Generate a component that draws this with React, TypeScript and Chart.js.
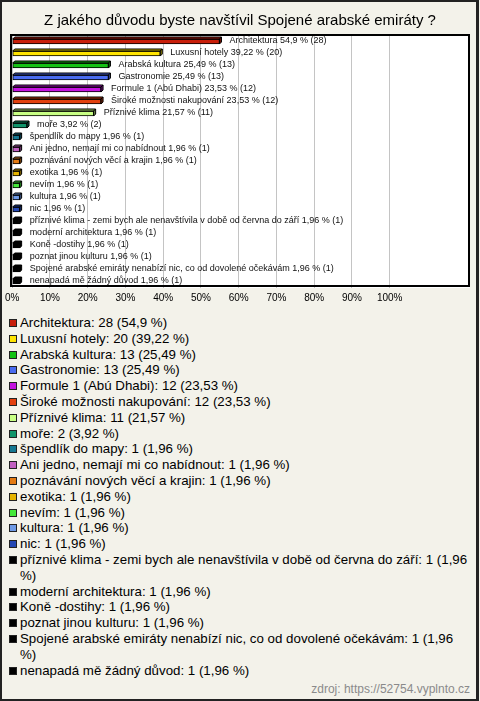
import React, { useEffect, useRef } from 'react';
import { Chart, registerables } from 'chart.js';

Chart.register(...registerables);

const TITLE = 'Z jakého důvodu byste navštívil Spojené arabské emiráty ?';
const SOURCE = 'zdroj: https://52754.vyplnto.cz';

const categories = [
  'Architektura',
  'Luxusní hotely',
  'Arabská kultura',
  'Gastronomie',
  'Formule 1 (Abú Dhabi)',
  'Široké možnosti nakupování',
  'Příznivé klima',
  'moře',
  'špendlík do mapy',
  'Ani jedno, nemají mi co nabídnout',
  'poznávání nových věcí a krajin',
  'exotika',
  'nevím',
  'kultura',
  'nic',
  'příznivé klima - zemi bych ale nenavštívila v době od června do září',
  'moderní architektura',
  'Koně -dostihy',
  'poznat jinou kulturu',
  'Spojené arabské emiráty nenabízí nic, co od dovolené očekávám',
  'nenapadá mě žádný důvod',
];

const counts = [28, 20, 13, 13, 12, 12, 11, 2, 1, 1, 1, 1, 1, 1, 1, 1, 1, 1, 1, 1, 1];

const percents = [
  54.9, 39.22, 25.49, 25.49, 23.53, 23.53, 21.57, 3.92, 1.96, 1.96, 1.96, 1.96, 1.96, 1.96, 1.96,
  1.96, 1.96, 1.96, 1.96, 1.96, 1.96,
];

const percentLabels = [
  '54,9', '39,22', '25,49', '25,49', '23,53', '23,53', '21,57', '3,92', '1,96', '1,96', '1,96',
  '1,96', '1,96', '1,96', '1,96', '1,96', '1,96', '1,96', '1,96', '1,96', '1,96',
];

const colors = [
  '#c81e0a', '#ffe400', '#14c214', '#4a6cf0', '#c414e0', '#e2400e', '#c8ff84', '#10946a',
  '#167892', '#c060c0', '#e47a12', '#e6b400', '#44e83a', '#6e9ae6', '#2448b4', '#000000',
  '#000000', '#000000', '#000000', '#000000', '#000000',
];

const xTickValues = [0, 10, 20, 30, 40, 50, 60, 70, 80, 90, 100];

const FONT = '"Liberation Sans", Arial, sans-serif';

function shade(hex: string, f: number): string {
  const n = parseInt(hex.slice(1), 16);
  let r = (n >> 16) & 255;
  let g = (n >> 8) & 255;
  let b = n & 255;
  r = Math.round(r * f);
  g = Math.round(g * f);
  b = Math.round(b * f);
  return `rgb(${Math.min(255, r)},${Math.min(255, g)},${Math.min(255, b)})`;
}

const framePlugin = {
  id: 'plotFrame',
  beforeDraw(chart: any) {
    const { ctx, chartArea: a } = chart;
    ctx.save();
    ctx.fillStyle = '#ffffff';
    ctx.fillRect(Math.floor(a.left) - 1, Math.floor(a.top), a.right - a.left + 2, a.bottom - a.top + 1);
    ctx.restore();
  },
  afterDraw(chart: any) {
    const { ctx, chartArea: a } = chart;
    ctx.save();
    ctx.strokeStyle = '#000';
    ctx.lineWidth = 2;
    ctx.strokeRect(Math.floor(a.left) - 1, Math.floor(a.top), Math.round(a.right - a.left) + 1, Math.round(a.bottom - a.top) - 1);
    ctx.restore();
  },
};

const bar3dPlugin = {
  id: 'bar3d',
  afterDatasetsDraw(chart: any) {
    const { ctx } = chart;
    const meta = chart.getDatasetMeta(0);
    const d = 2;
    ctx.save();
    ctx.lineWidth = 1;
    ctx.strokeStyle = '#000';
    meta.data.forEach((el: any, i: number) => {
      const p = el.getProps(['x', 'y', 'base', 'height'], true);
      const top = p.y - p.height / 2;
      const bottom = p.y + p.height / 2;
      const x0 = p.base;
      const x1 = p.x;
      const col = colors[i];
      // top face
      ctx.beginPath();
      ctx.moveTo(x0, top);
      ctx.lineTo(x0 + d, top - d);
      ctx.lineTo(x1 + d, top - d);
      ctx.lineTo(x1, top);
      ctx.closePath();
      ctx.fillStyle = shade(col, 0.75);
      ctx.fill();
      ctx.stroke();
      // right face
      ctx.beginPath();
      ctx.moveTo(x1, top);
      ctx.lineTo(x1 + d, top - d);
      ctx.lineTo(x1 + d, bottom - d);
      ctx.lineTo(x1, bottom);
      ctx.closePath();
      ctx.fillStyle = shade(col, 0.55);
      ctx.fill();
      ctx.stroke();
      // value label
      ctx.fillStyle = '#111';
      ctx.font = `9px ${FONT}`;
      ctx.textAlign = 'left';
      ctx.textBaseline = 'middle';
      ctx.fillText(`${categories[i]} ${percentLabels[i]} % (${counts[i]})`, x1 + 10, p.y - 0.5);
    });
    ctx.restore();
  },
};

function ChartCanvas() {
  const ref = useRef<HTMLCanvasElement | null>(null);
  useEffect(() => {
    const canvas = ref.current;
    if (!canvas) return;
    const chart = new Chart(canvas, {
      type: 'bar',
      data: {
        labels: categories,
        datasets: [
          {
            data: percents,
            backgroundColor: colors,
            borderColor: '#000',
            borderWidth: 1,
            borderSkipped: false,
            barThickness: 5,
          },
        ],
      },
      options: {
        indexAxis: 'y',
        animation: false,
        responsive: false,
        maintainAspectRatio: false,
        layout: { padding: { left: 11, right: 11, top: 0, bottom: 0 } },
        plugins: {
          legend: { display: false },
          tooltip: { enabled: false },
          title: {
            display: true,
            text: TITLE,
            color: '#000',
            font: { family: FONT, size: 15, weight: 'normal', lineHeight: 1.2 },
            padding: { top: 12, bottom: 5.5 },
          },
        },
        scales: {
          y: {
            display: false,
            grid: { display: false },
          },
          x: {
            type: 'linear',
            min: 0,
            max: 121,
            afterFit: (scale: any) => {
              scale.height = 22.5;
            },
            afterBuildTicks: (scale: any) => {
              scale.ticks = xTickValues.map((v) => ({ value: v }));
            },
            border: { display: false },
            grid: {
              color: '#c4c4c4',
              lineWidth: 1,
              drawTicks: false,
            },
            ticks: {
              padding: 5,
              color: '#000',
              font: { family: FONT, size: 10 },
              maxRotation: 0,
              autoSkip: false,
              callback: (v: any) => `${v}%`,
            },
          },
        },
      },
      plugins: [framePlugin, bar3dPlugin],
    });
    return () => chart.destroy();
  }, []);
  return <canvas ref={ref} width={480} height={310} style={{ display: 'block', width: 480, height: 310 }} />;
}

export default function App() {
  useEffect(() => {
    document.body.style.margin = '0';
  }, []);
  return (
    <div
      style={{
        position: 'relative',
        width: 480,
        height: 701,
        background: '#f3f2ea',
        fontFamily: FONT,
        overflow: 'hidden',
      }}
    >
      <div style={{ position: 'absolute', left: 0, top: 0 }}>
        <ChartCanvas />
      </div>
      <div style={{ position: 'absolute', left: 9, top: 315, width: 468 }}>
        {categories.map((c, i) => (
          <div key={c} style={{ display: 'flex', alignItems: 'flex-start' }}>
            <span
              style={{
                width: 8,
                height: 8,
                boxSizing: 'border-box',
                border: '1px solid #222',
                background: colors[i],
                marginTop: 4,
                flexShrink: 0,
              }}
            />
            <span
              style={{
                marginLeft: 3,
                fontSize: 13.3,
                lineHeight: '15.8px',
                color: '#000',
                width: 452,
              }}
            >
              {`${c}: ${counts[i]} (${percentLabels[i]} %)`}
            </span>
          </div>
        ))}
      </div>
      <div
        style={{
          position: 'absolute',
          right: 10,
          top: 682,
          fontSize: 12,
          lineHeight: '15px',
          color: '#8a8a8a',
          whiteSpace: 'nowrap',
        }}
      >
        {SOURCE}
      </div>
      <div
        style={{
          position: 'absolute',
          left: 0,
          top: 0,
          width: 479,
          height: 701,
          boxSizing: 'border-box',
          borderStyle: 'solid',
          borderColor: '#222',
          borderWidth: '2px 3px 2px 2px',
          pointerEvents: 'none',
        }}
      />
    </div>
  );
}
